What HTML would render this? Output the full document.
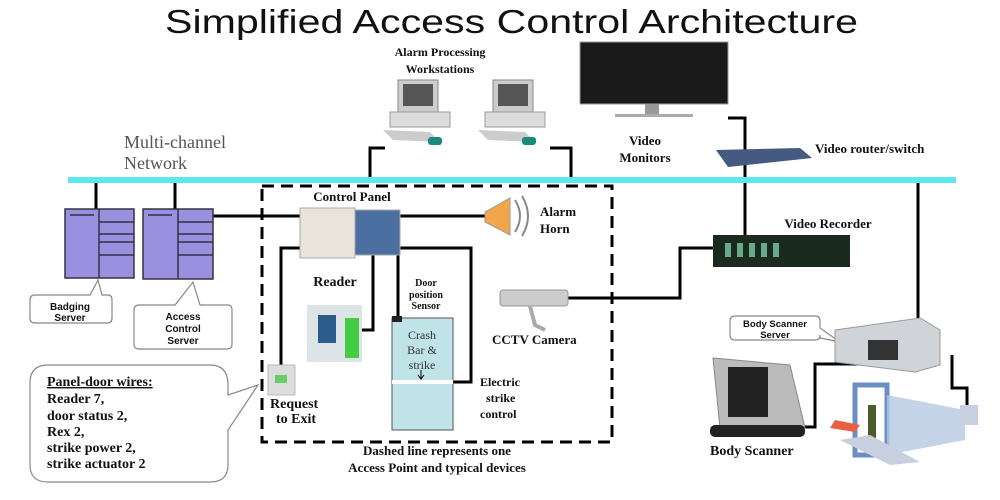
<!DOCTYPE html>
<html><head><meta charset="utf-8"><style>
body{margin:0;background:#fff;}
svg{display:block;}
.s{font-family:"Liberation Serif",serif;font-weight:bold;fill:#111;}
.a{font-family:"Liberation Sans",sans-serif;font-weight:bold;fill:#111;}
</style></head><body>
<svg width="1000" height="500" viewBox="0 0 1000 500" xmlns="http://www.w3.org/2000/svg">
<rect width="1000" height="500" fill="#fff"/>
<text x="165" y="33" textLength="693" lengthAdjust="spacingAndGlyphs" font-family="Liberation Sans,sans-serif" font-size="33" fill="#111">Simplified Access Control Architecture</text>
<text x="124" y="148" font-family="Liberation Serif,serif" font-size="18" fill="#555">Multi-channel</text>
<text x="124" y="169" font-family="Liberation Serif,serif" font-size="18" fill="#555">Network</text>
<!-- wires -->
<g stroke="#000" stroke-width="3" fill="none">
<path d="M96 180V210M175 180V210"/>
<path d="M213 216H300M400 216H485"/>
<path d="M370 180V148H385M571 180V148H550"/>
<path d="M728 118H745V235"/>
<path d="M918 180V322"/>
<path d="M373 255V330H362"/>
<path d="M398 255V318"/>
<path d="M400 248H471V382H453"/>
<path d="M281 365V248H300"/>
<path d="M568 298H680V248H713"/>
<path d="M880 364H815V427H805"/>
<path d="M952 355V388H967V410"/>
</g>
<rect x="68" y="177" width="888" height="6" fill="#5ee8ee"/>
<!-- dashed -->
<rect x="262" y="186" width="350" height="256" fill="none" stroke="#000" stroke-width="3" stroke-dasharray="12,7"/>
<!-- servers -->
<g stroke="#334" stroke-width="1.5">
<rect x="65" y="209" width="69" height="69" fill="#9b8fe0"/><line x1="99" y1="209" x2="99" y2="278"/><line x1="99" y1="255" x2="134" y2="255"/>
<line x1="70" y1="215" x2="94" y2="215"/><line x1="99" y1="222" x2="134" y2="222"/><line x1="99" y1="234" x2="134" y2="234"/><line x1="99" y1="242" x2="134" y2="242"/>
<rect x="143" y="209" width="70" height="70" fill="#9b8fe0"/><line x1="178" y1="209" x2="178" y2="279"/><line x1="178" y1="255" x2="213" y2="255"/>
<line x1="148" y1="215" x2="172" y2="215"/><line x1="178" y1="222" x2="213" y2="222"/><line x1="178" y1="234" x2="213" y2="234"/><line x1="178" y1="242" x2="213" y2="242"/>
</g>
<g fill="none" stroke="#888" stroke-width="1.2">
<path d="M40 295H90L98 280L102 295H108Q112 295 112 300V318Q112 323 107 323H35Q30 323 30 318V300Q30 295 35 295Z"/>
<path d="M148 305H175L193 282L200 305H228Q232 305 232 310V344Q232 349 227 349H139Q134 349 134 344V310Q134 305 139 305Z"/>
<path d="M55 365H210Q228 365 228 385V395L258 385L228 430V465Q228 482 210 482H48Q30 482 30 465V383Q30 365 48 365Z"/>
<path d="M738 316H815Q820 316 820 321V328L840 342L820 338V335Q820 340 815 340H735Q730 340 730 335V321Q730 316 735 316Z"/>
</g>
<text x="70" y="310" text-anchor="middle" class="a" font-size="10">Badging</text>
<text x="70" y="321" text-anchor="middle" class="a" font-size="10">Server</text>
<text x="183" y="320" text-anchor="middle" class="a" font-size="10">Access</text>
<text x="183" y="332" text-anchor="middle" class="a" font-size="10">Control</text>
<text x="183" y="344" text-anchor="middle" class="a" font-size="10">Server</text>
<text x="775" y="327" text-anchor="middle" class="a" font-size="9.5">Body Scanner</text>
<text x="775" y="338" text-anchor="middle" class="a" font-size="9.5">Server</text>
<g class="s" font-size="14">
<text x="47" y="386" text-decoration="underline">Panel-door wires:</text>
<text x="47" y="403">Reader  7,</text>
<text x="47" y="420">door status 2,</text>
<text x="47" y="436">Rex 2,</text>
<text x="47" y="452">strike power 2,</text>
<text x="47" y="468">strike actuator 2</text>
</g>
<!-- control panel -->
<rect x="300" y="208" width="55" height="50" fill="#e8e4dc" stroke="#aaa"/>
<rect x="355" y="210" width="45" height="45" fill="#4a6fa0" stroke="#aaa"/>
<text x="352" y="201" text-anchor="middle" class="s" font-size="13">Control Panel</text>
<text x="335" y="286" text-anchor="middle" class="s" font-size="14">Reader</text>
<rect x="307" y="305" width="55" height="57" fill="#dde4e8"/>
<rect x="318" y="315" width="18" height="28" fill="#2c5d8a"/>
<rect x="345" y="318" width="14" height="40" fill="#4c4"/>
<g class="s" font-size="10" text-anchor="middle"><text x="426" y="286">Door</text><text x="426" y="298">position</text><text x="426" y="309">Sensor</text></g>
<rect x="392" y="318" width="61" height="112" fill="#bfe3e6" stroke="#555"/>
<rect x="392" y="380" width="61" height="4" fill="#fff"/>
<rect x="392" y="316" width="10" height="6" fill="#222"/>
<g font-family="Liberation Serif,serif" font-size="12" fill="#333" text-anchor="middle"><text x="422" y="339">Crash</text><text x="422" y="354">Bar &amp;</text><text x="422" y="369">strike</text></g>
<path d="M421 370V378M418 375L421 379L424 375" stroke="#000" fill="none"/>
<rect x="268" y="365" width="27" height="30" fill="#ddd" stroke="#bbb"/><rect x="275" y="375" width="12" height="8" fill="#6c6"/>
<g class="s" font-size="14"><text x="270" y="408">Request</text><text x="276" y="423">to Exit</text></g>
<g class="s" font-size="12"><text x="480" y="386">Electric</text><text x="486" y="402">strike</text><text x="480" y="418">control</text></g>
<!-- horn -->
<path d="M485 212L510 198V235L485 222Z" fill="#f2a64a" stroke="#999"/>
<path d="M515 200Q525 216 515 232M522 196Q534 216 522 236" stroke="#888" fill="none" stroke-width="2"/>
<g class="s" font-size="13"><text x="540" y="216">Alarm</text><text x="540" y="233">Horn</text></g>
<!-- camera -->
<rect x="500" y="290" width="68" height="16" rx="3" fill="#ccc" stroke="#999"/>
<path d="M530 306L535 325L545 330" stroke="#aaa" stroke-width="4" fill="none"/>
<text x="492" y="344" class="s" font-size="13">CCTV Camera</text>
<g class="s" font-size="13" text-anchor="middle"><text x="437" y="455">Dashed line represents one</text><text x="437" y="472">Access Point and typical devices</text></g>
<!-- workstations -->
<text x="440" y="56" text-anchor="middle" class="s" font-size="12">Alarm Processing</text>
<text x="440" y="73" text-anchor="middle" class="s" font-size="12">Workstations</text>
<g>
<rect x="398" y="80" width="40" height="32" fill="#ccc" stroke="#888"/><rect x="403" y="84" width="30" height="22" fill="#555"/>
<rect x="390" y="112" width="60" height="15" fill="#ddd" stroke="#999"/><path d="M383 130L430 132L440 142L393 140Z" fill="#ccc"/>
<rect x="428" y="137" width="14" height="8" rx="3" fill="#1a8a7a"/>
<rect x="493" y="80" width="40" height="32" fill="#ccc" stroke="#888"/><rect x="498" y="84" width="30" height="22" fill="#555"/>
<rect x="485" y="112" width="60" height="15" fill="#ddd" stroke="#999"/><path d="M478 130L525 132L535 142L488 140Z" fill="#ccc"/>
<rect x="522" y="137" width="14" height="8" rx="3" fill="#1a8a7a"/>
</g>
<!-- monitor -->
<rect x="580" y="42" width="148" height="62" fill="#1a1a1a" stroke="#999"/>
<rect x="645" y="104" width="14" height="10" fill="#999"/><rect x="615" y="114" width="78" height="3" fill="#aaa"/>
<g class="s" font-size="13" text-anchor="middle"><text x="645" y="145">Video</text><text x="645" y="162">Monitors</text></g>
<path d="M716 150L800 148L812 158L728 167Z" fill="#445a80"/>
<text x="815" y="153" class="s" font-size="13">Video router/switch</text>
<text x="828" y="228" text-anchor="middle" class="s" font-size="13">Video Recorder</text>
<rect x="713" y="235" width="137" height="32" fill="#1a2a1e"/>
<g fill="#6a8"><rect x="725" y="243" width="6" height="14"/><rect x="737" y="243" width="6" height="14"/><rect x="749" y="243" width="6" height="14"/><rect x="761" y="243" width="6" height="14"/><rect x="773" y="243" width="6" height="14"/></g>
<!-- body scanner -->
<path d="M835 330L920 318L940 330V365L915 372L835 362Z" fill="#d0d4d8" stroke="#999"/>
<rect x="868" y="340" width="30" height="20" fill="#333"/>
<path d="M713 358L790 365L805 428L720 428Z" fill="#bbb" stroke="#888"/>
<rect x="728" y="367" width="40" height="50" fill="#222"/>
<rect x="710" y="425" width="95" height="12" rx="5" fill="#222"/>
<text x="710" y="455" class="s" font-size="14">Body Scanner</text>
<rect x="855" y="385" width="32" height="70" fill="none" stroke="#6b8fc4" stroke-width="5"/>
<path d="M887 395L965 410V440L887 455Z" fill="#b6c8e4" opacity="0.8"/>
<rect x="868" y="405" width="8" height="38" fill="#4a5a2a"/>
<rect x="960" y="405" width="18" height="20" fill="#c8d0e0"/>
<path d="M835 420L860 425L855 432L830 428Z" fill="#e86040"/>
<path d="M840 440L890 465L920 462L870 435Z" fill="#c8d0e0"/>
</svg>
</body></html>
